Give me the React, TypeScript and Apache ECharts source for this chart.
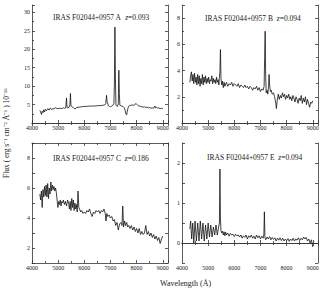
import React, { useEffect, useRef } from "react";
import * as echarts from "echarts";

// Spectra: [wavelength (Å), flux (1e-16 erg s^-1 cm^-2 Å^-1)]
const specA: [number, number][] = [
  [4300, 3.4], [4330, 3.0], [4360, 2.3], [4390, 3.2], [4420, 2.8], [4450, 3.6], [4480, 3.0], [4510, 3.7],
  [4550, 3.3], [4600, 3.9], [4650, 3.5], [4700, 4.1], [4750, 3.6], [4800, 3.9], [4850, 3.8], [4900, 4.2],
  [4950, 3.9], [5000, 3.9], [5050, 4.0], [5100, 3.9], [5150, 4.0], [5200, 4.1], [5250, 4.0], [5290, 4.1],
  [5320, 6.8], [5340, 4.2], [5370, 4.1], [5420, 4.3], [5450, 5.0], [5470, 8.0], [5490, 4.6], [5520, 4.5],
  [5560, 4.3], [5600, 4.0], [5650, 3.8], [5700, 4.2], [5800, 4.3], [5900, 4.4], [6000, 4.5], [6100, 4.5],
  [6200, 4.6], [6300, 4.6], [6400, 4.6], [6500, 4.7], [6600, 4.7], [6700, 4.8], [6780, 4.9], [6820, 5.3],
  [6850, 7.5], [6870, 5.8], [6890, 5.4], [6920, 4.7], [6960, 4.5], [7000, 4.4], [7050, 4.6], [7100, 4.9],
  [7130, 5.2], [7150, 10], [7170, 26], [7190, 12], [7210, 4.8], [7240, 4.6], [7270, 4.5], [7300, 5.2],
  [7320, 14.3], [7340, 8], [7360, 4.8], [7390, 4.7], [7430, 4.6], [7480, 4.5], [7520, 4.2], [7560, 3.5],
  [7590, 2.4], [7620, 2.2], [7650, 3.5], [7690, 4.5], [7730, 4.7], [7780, 4.8], [7830, 4.9], [7880, 4.8],
  [7930, 5.0], [7980, 5.3], [8020, 5.0], [8060, 4.7], [8100, 4.6], [8150, 4.5], [8200, 4.4], [8250, 4.3],
  [8300, 4.4], [8350, 4.2], [8400, 4.3], [8450, 4.1], [8500, 4.2], [8550, 4.0], [8600, 4.1], [8650, 4.0],
  [8700, 4.6], [8720, 4.1], [8760, 4.3], [8800, 4.0], [8850, 4.1], [8900, 3.9], [8950, 4.0], [9000, 3.9],
];

const specB: [number, number][] = [
  [4300, 3.1], [4330, 3.6], [4360, 3.9], [4390, 3.2], [4420, 3.7], [4450, 3.0], [4480, 3.8], [4510, 3.1],
  [4540, 3.5], [4570, 2.9], [4600, 3.7], [4630, 3.0], [4660, 3.6], [4690, 2.8], [4720, 3.4], [4750, 3.0],
  [4780, 3.7], [4810, 2.9], [4840, 3.5], [4870, 3.1], [4900, 3.6], [4930, 3.0], [4960, 3.4], [4990, 3.1],
  [5020, 3.5], [5050, 3.0], [5080, 3.3], [5110, 3.2], [5140, 3.6], [5170, 3.0], [5200, 3.4], [5230, 3.1],
  [5260, 3.3], [5290, 3.0], [5320, 3.5], [5350, 3.1], [5380, 3.3], [5410, 2.9], [5430, 3.5], [5450, 3.9],
  [5470, 5.6], [5490, 3.4], [5520, 2.9], [5550, 3.2], [5580, 2.7], [5610, 3.1], [5640, 2.8], [5670, 3.0],
  [5700, 3.1], [5750, 2.8], [5800, 3.0], [5850, 2.9], [5900, 3.1], [5950, 2.8], [6000, 3.0], [6050, 2.9],
  [6100, 2.8], [6150, 3.0], [6200, 2.7], [6250, 2.9], [6300, 2.8], [6350, 2.7], [6400, 2.9], [6450, 2.7],
  [6500, 2.8], [6550, 2.6], [6600, 2.8], [6650, 2.7], [6700, 2.5], [6750, 2.7], [6800, 2.6], [6850, 2.8],
  [6900, 2.5], [6950, 2.7], [7000, 2.4], [7050, 2.6], [7100, 2.5], [7140, 2.8], [7160, 5.0], [7180, 7.0],
  [7200, 3.5], [7220, 2.3], [7250, 2.5], [7280, 2.2], [7310, 2.8], [7330, 3.7], [7350, 2.9], [7380, 2.4],
  [7410, 2.5], [7450, 2.2], [7500, 2.3], [7540, 2.0], [7580, 1.6], [7610, 1.1], [7640, 1.7], [7680, 2.2],
  [7720, 1.8], [7760, 2.1], [7800, 1.9], [7840, 2.3], [7880, 2.0], [7920, 2.2], [7960, 1.8], [8000, 2.1],
  [8040, 1.9], [8080, 2.2], [8120, 1.8], [8160, 2.0], [8200, 1.7], [8240, 2.1], [8280, 1.9], [8320, 1.6],
  [8360, 2.0], [8400, 1.8], [8440, 1.5], [8480, 1.9], [8520, 1.7], [8560, 2.1], [8600, 1.5], [8640, 1.9],
  [8680, 1.6], [8720, 2.0], [8760, 1.4], [8800, 1.8], [8840, 1.5], [8880, 1.2], [8920, 1.6], [8960, 1.5],
  [9000, 1.7],
];

const specC: [number, number][] = [
  [4300, 5.6], [4330, 5.2], [4360, 5.8], [4390, 4.7], [4420, 5.9], [4450, 5.4], [4480, 6.1], [4510, 5.5],
  [4540, 6.2], [4570, 5.4], [4600, 6.3], [4630, 5.3], [4660, 6.0], [4690, 5.6], [4720, 6.4], [4750, 5.8],
  [4780, 6.2], [4810, 5.9], [4840, 6.1], [4870, 5.8], [4900, 6.0], [4930, 5.7], [4960, 5.2], [4990, 4.7],
  [5020, 5.1], [5050, 4.9], [5080, 5.2], [5110, 4.8], [5140, 5.1], [5170, 5.0], [5200, 5.2], [5240, 4.9],
  [5280, 5.1], [5320, 4.8], [5360, 5.2], [5400, 5.0], [5430, 4.6], [5460, 5.1], [5490, 4.5], [5520, 5.3],
  [5550, 4.7], [5580, 5.2], [5610, 4.5], [5640, 5.0], [5670, 4.6], [5700, 4.9], [5730, 4.4], [5760, 5.8],
  [5790, 4.7], [5820, 4.6], [5860, 4.4], [5900, 4.5], [5950, 4.3], [6000, 4.4], [6050, 4.3], [6100, 4.5],
  [6150, 4.4], [6200, 4.6], [6250, 4.3], [6300, 4.1], [6350, 4.4], [6400, 4.3], [6450, 4.5], [6500, 4.4],
  [6550, 4.5], [6600, 4.3], [6650, 4.5], [6700, 4.4], [6750, 4.6], [6800, 4.3], [6830, 3.8], [6860, 4.3],
  [6900, 4.1], [6950, 4.2], [7000, 4.0], [7050, 4.1], [7100, 3.8], [7150, 3.9], [7200, 3.5], [7250, 3.7],
  [7300, 3.2], [7350, 3.6], [7400, 3.7], [7440, 3.5], [7470, 4.8], [7500, 3.4], [7540, 3.8], [7580, 3.5],
  [7620, 3.7], [7660, 3.4], [7700, 3.5], [7750, 3.3], [7800, 3.5], [7850, 3.2], [7900, 3.4], [7950, 3.1],
  [8000, 3.3], [8050, 3.0], [8100, 3.3], [8150, 2.9], [8200, 3.1], [8250, 2.9], [8300, 3.0], [8350, 3.5],
  [8400, 2.9], [8450, 3.1], [8500, 2.8], [8550, 3.0], [8600, 2.7], [8650, 2.9], [8700, 2.6], [8750, 2.8],
  [8800, 2.5], [8850, 2.7], [8900, 2.3], [8950, 2.6], [9000, 2.8],
];

const specE: [number, number][] = [
  [4300, 0.35], [4330, 0.55], [4370, 0.1], [4410, 0.5], [4450, 0.0], [4500, 0.55], [4550, 0.05], [4600, 0.5],
  [4650, 0.05], [4700, 0.55], [4750, 0.1], [4800, 0.5], [4850, 0.05], [4900, 0.45], [4950, 0.1], [5000, 0.5],
  [5050, 0.15], [5100, 0.45], [5150, 0.15], [5200, 0.4], [5250, 0.2], [5300, 0.45], [5350, 0.2], [5400, 0.4],
  [5430, 0.5], [5450, 1.85], [5470, 0.6], [5490, 0.3], [5520, 0.25], [5550, 0.3], [5580, 0.2], [5610, 0.28],
  [5640, 0.18], [5670, 0.27], [5700, 0.2], [5750, 0.25], [5800, 0.17], [5850, 0.24], [5900, 0.2], [5950, 0.22],
  [6000, 0.16], [6050, 0.22], [6100, 0.18], [6150, 0.2], [6200, 0.15], [6250, 0.2], [6300, 0.12], [6350, 0.18],
  [6400, 0.14], [6450, 0.2], [6500, 0.1], [6550, 0.18], [6600, 0.14], [6650, 0.2], [6700, 0.12], [6750, 0.17],
  [6800, 0.1], [6850, 0.2], [6900, 0.13], [6950, 0.18], [7000, 0.1], [7050, 0.17], [7100, 0.12], [7130, 0.2],
  [7150, 0.78], [7170, 0.15], [7200, 0.08], [7250, 0.15], [7300, 0.1], [7350, 0.16], [7400, 0.08], [7450, 0.14],
  [7500, 0.09], [7550, 0.13], [7600, 0.05], [7650, 0.12], [7700, 0.07], [7750, 0.13], [7800, 0.06], [7850, 0.12],
  [7900, 0.05], [7950, 0.1], [8000, 0.06], [8050, 0.11], [8100, 0.04], [8150, 0.1], [8200, 0.06], [8250, 0.12],
  [8300, 0.05], [8350, 0.1], [8400, 0.07], [8450, 0.13], [8500, 0.06], [8550, 0.12], [8600, 0.08], [8650, 0.15],
  [8700, 0.1], [8750, 0.14], [8800, 0.05], [8850, 0.1], [8900, 0.0], [8950, 0.08], [9000, -0.1],
];

const panelNames = ["IRAS F02044+0957 A", "IRAS F02044+0957 B", "IRAS F02044+0957 C", "IRAS F02044+0957 E"];
const redshifts = ["0.093", "0.094", "0.186", "0.094"];
const xTickLabels = [4000, 5000, 6000, 7000, 8000, 9000];
const yTickLabelsA = [5, 10, 15, 20, 25, 30];
const yTickLabelsB = [2, 4, 6, 8];
const yTickLabelsC = [2, 4, 6, 8];
const yTickLabelsE = [0, 1, 2];

const FONT = "Liberation Serif";

export default function App() {
  const ref = useRef<HTMLDivElement>(null);
  useEffect(() => {
    if (!ref.current) return;
    const chart = echarts.init(ref.current, null, { renderer: "svg" });

    const layout = [
      { left: 32, top: 5, width: 136, height: 118 },
      { left: 182, top: 5, width: 136, height: 118 },
      { left: 32, top: 143, width: 136, height: 120 },
      { left: 182, top: 143, width: 136, height: 120 },
    ];
    const yCfg = [
      { min: 0, max: 32, interval: 5, labels: yTickLabelsA, minor: 2 },
      { min: 0, max: 9, interval: 2, labels: yTickLabelsB, minor: 2 },
      { min: 1, max: 9, interval: 1, labels: yTickLabelsC, minor: 1 },
      { min: -0.5, max: 2.5, interval: 0.5, labels: yTickLabelsE, minor: 1 },
    ];
    const titleOff = [
      { left: 53, top: 13 },
      { left: 205, top: 14 },
      { left: 53, top: 154 },
      { left: 207, top: 153 },
    ];
    const specs = [specA, specB, specC, specE];

    const lineStyle = { color: "#333", width: 0.8 };
    const grid: any[] = [];
    const xAxis: any[] = [];
    const yAxis: any[] = [];
    const series: any[] = [];
    const title: any[] = [];

    specs.forEach((spec, i) => {
      grid.push({ ...layout[i], containLabel: false });
      const xBase = {
        type: "value",
        gridIndex: i,
        min: 4000,
        max: 9200,
        interval: 1000,
        splitLine: { show: false },
        axisLine: { show: true, lineStyle },
        axisTick: { show: true, inside: true, length: 3, lineStyle },
        minorTick: { show: true, splitNumber: 2, length: 2, lineStyle },
      };
      xAxis.push({
        ...xBase,
        position: "bottom",
        axisLabel: {
          show: true,
          fontFamily: FONT,
          fontSize: 6,
          color: "#222",
          margin: 2,
          formatter: (v: number) => (xTickLabels.includes(v) ? String(v) : ""),
        },
      });
      xAxis.push({ ...xBase, position: "top", axisLabel: { show: false } });

      const c = yCfg[i];
      const yBase = {
        type: "value",
        gridIndex: i,
        min: c.min,
        max: c.max,
        interval: c.interval,
        splitLine: { show: false },
        axisLine: { show: true, lineStyle },
        axisTick: { show: true, inside: true, length: 3, lineStyle },
        minorTick: { show: c.minor > 1, splitNumber: c.minor, length: 2, lineStyle },
      };
      yAxis.push({
        ...yBase,
        position: "left",
        axisLabel: {
          show: true,
          fontFamily: FONT,
          fontSize: 6,
          color: "#222",
          margin: 2,
          formatter: (v: number) => (c.labels.some((l) => Math.abs(l - v) < 1e-9) ? String(v) : ""),
        },
      });
      yAxis.push({ ...yBase, position: "right", axisLabel: { show: false } });

      series.push({
        type: "line",
        xAxisIndex: 2 * i,
        yAxisIndex: 2 * i,
        data: spec,
        showSymbol: false,
        symbol: "none",
        lineStyle: { color: "#111", width: 0.8 },
      });

      title.push({
        left: titleOff[i].left,
        top: titleOff[i].top,
        padding: 0,
        text: `{a|${panelNames[i]}  }{i|z}{a|=${redshifts[i]}}`,
        textStyle: {
          fontWeight: "normal",
          rich: {
            a: { fontFamily: FONT, fontSize: 7.5, color: "#222", fontWeight: "normal" },
            i: { fontFamily: FONT, fontSize: 7.5, color: "#222", fontStyle: "italic", fontWeight: "normal" },
          },
        },
      });
    });

    chart.setOption({
      animation: false,
      backgroundColor: "#fff",
      title,
      grid,
      xAxis,
      yAxis,
      series,
      graphic: [
        {
          type: "text",
          x: 6,
          y: 133,
          rotation: Math.PI / 2,
          style: {
            text: "Flux ( erg s⁻¹ cm⁻² Å⁻¹ ) 10⁻¹⁶",
            fontFamily: FONT,
            fontSize: 7.5,
            fill: "#222",
            textAlign: "center",
            textVerticalAlign: "middle",
          },
        },
        {
          type: "text",
          x: 160,
          y: 283,
          style: {
            text: "Wavelength (Å)",
            fontFamily: FONT,
            fontSize: 8,
            fill: "#222",
            textAlign: "left",
            textVerticalAlign: "middle",
          },
        },
      ],
    });
    return () => chart.dispose();
  }, []);
  return (
    <div
      ref={ref}
      style={{ position: "absolute", left: 0, top: 0, width: 327, height: 290, background: "#fff" }}
    />
  );
}
